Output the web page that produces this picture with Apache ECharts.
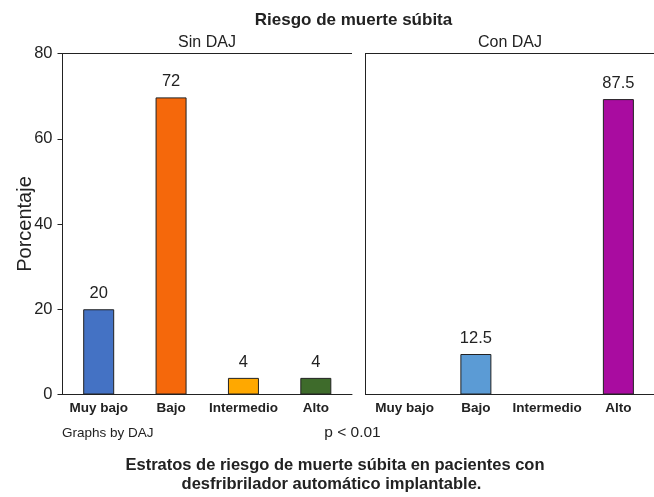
<!DOCTYPE html>
<html>
<head>
<meta charset="utf-8">
<script src="https://cdn.jsdelivr.net/npm/echarts@6/dist/echarts.min.js"></script>
<style>
  html, body { margin: 0; padding: 0; background: #fff; }
  #chart { width: 654px; height: 497px; }
</style>
</head>
<body>
<div id="chart"></div>
<script>
// categorias y valores (altura de barra, etiqueta impresa aparte)
const categories = ['Muy bajo', 'Bajo', 'Intermedio', 'Alto']
const sinDajValues = [20, 69.7, 3.9, 3.9]
const sinDajLabels = ['20', '72', '4', '4']
const sinDajColors = ['#4472C4', '#F5680B', '#FFA800', '#3E6B2B']
const conDajValues = [null, 9.5, null, 69.3]
const conDajLabels = ['', '12.5', '', '87.5']
const conDajColors = ['#5B9BD5', '#5B9BD5', '#A90CA0', '#A90CA0']
const yTicks = { min: 0, max: 80, interval: 20 }

const FONT = '"Liberation Sans", Arial, Helvetica, sans-serif'
const INK = '#222'

var myChart = echarts.init(document.getElementById('chart'))

function barData(values, colors) {
    return values.map((v, i) => v === null ? '-' : {
        value: v,
        itemStyle: { color: colors[i] }
    })
}

function barSeries(idx, values, labels, colors) {
    return {
        type: 'bar',
        xAxisIndex: idx,
        yAxisIndex: idx,
        barWidth: 31,
        data: barData(values, colors),
        itemStyle: { borderColor: '#222', borderWidth: 1 },
        label: {
            show: true,
            position: 'top',
            distance: 7,
            color: INK,
            fontFamily: FONT,
            fontSize: 16.5,
            formatter: p => labels[p.dataIndex]
        },
        animation: false
    }
}

function text(str, x, y, size, bold, align) {
    return {
        type: 'text',
        style: {
            text: str,
            x: x,
            y: y,
            fill: INK,
            font: (bold ? 'bold ' : '') + size + 'px ' + FONT,
            textAlign: align || 'center',
            textVerticalAlign: 'middle'
        }
    }
}

function line(x1, y1, x2, y2) {
    return {
        type: 'line',
        shape: { x1: x1, y1: y1, x2: x2, y2: y2 },
        style: { stroke: '#222', lineWidth: 1 }
    }
}

var xAxisCommon = {
    type: 'category',
    data: categories,
    axisTick: { show: false },
    axisLine: { lineStyle: { color: '#222', width: 1 } },
    axisLabel: { interval: 0, color: INK, fontFamily: FONT, fontSize: 13.5, fontWeight: 'bold', margin: 7 }
}

var option = {
    animation: false,
    grid: [
        { left: 62.5, top: 53.5, width: 289.5, height: 341 },
        { left: 369, top: 53.5, width: 289, height: 341 }
    ],
    xAxis: [
        Object.assign({ gridIndex: 0 }, xAxisCommon),
        Object.assign({ gridIndex: 1 }, xAxisCommon)
    ],
    yAxis: [
        {
            gridIndex: 0,
            type: 'value',
            min: yTicks.min, max: yTicks.max, interval: yTicks.interval,
            name: 'Porcentaje',
            nameLocation: 'middle',
            nameGap: 27,
            nameMoveOverlap: false,
            nameTextStyle: { color: INK, fontFamily: FONT, fontSize: 20 },
            axisLine: { show: true, lineStyle: { color: '#222' } },
            axisTick: { show: true, length: 5, lineStyle: { color: '#222' } },
            axisLabel: { color: INK, fontFamily: FONT, fontSize: 16.5, margin: 10 },
            splitLine: { show: false }
        },
        {
            gridIndex: 1,
            type: 'value',
            min: yTicks.min, max: yTicks.max, interval: yTicks.interval,
            offset: 4,
            axisLine: { show: true, lineStyle: { color: '#222' } },
            axisTick: { show: false },
            axisLabel: { show: false },
            splitLine: { show: false }
        }
    ],
    series: [
        barSeries(0, sinDajValues, sinDajLabels, sinDajColors),
        barSeries(1, conDajValues, conDajLabels, conDajColors)
    ],
    graphic: [
        line(62.5, 53.5, 352, 53.5),
        line(365, 53.5, 654, 53.5),
        line(365, 394.5, 654, 394.5),
        text('Riesgo de muerte súbita', 353.5, 20, 17, true),
        text('Sin DAJ', 207, 43, 16, false),
        text('Con DAJ', 510, 43, 16, false),
        text('Graphs by DAJ', 62, 433, 13.5, false, 'left'),
        text('p < 0.01', 352.5, 433, 15.5, false),
        text('Estratos de riesgo de muerte súbita en pacientes con', 335, 465, 16.5, true),
        text('desfribrilador automático implantable.', 331.5, 484, 16.5, true)
    ]
}

myChart.setOption(option)
</script>
</body>
</html>
